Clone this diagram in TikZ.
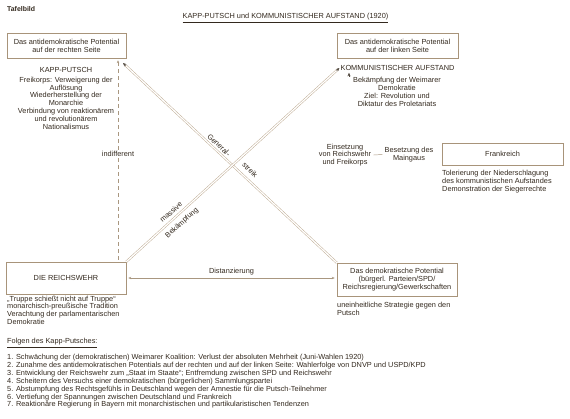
\documentclass[tikz,border=0pt]{standalone}
\usepackage{fontspec}
\setmainfont{Liberation Sans}
\usetikzlibrary{arrows.meta,calc}
\definecolor{ink}{HTML}{33291E}
\definecolor{linec}{HTML}{BCA88E}
\definecolor{boxc}{HTML}{A8947A}
\newcommand\fs{\fontsize{7.35}{7.8}\selectfont}
\newcommand\dblarrow[2]{%
  \draw[dbl, shorten >=2.5pt] (#1) -- (#2);
  \draw[tipline] ($(#2)!4pt!(#1)$) -- (#2);}
\begin{document}
\begin{tikzpicture}[x=1pt,y=-1pt,
  every node/.style={font=\fs, text=ink, inner sep=0pt},
  box/.style={draw=boxc, line width=0.5pt, align=center},
  txt/.style={align=center},
  ltxt/.style={align=left, anchor=north west},
  dbl/.style={draw=linec, line width=0.45pt, double=white, double distance=1.3pt},
  tipline/.style={draw=ink!85, line width=0.4pt, -{Stealth[length=3.5pt,width=3pt]}},
  thinline/.style={draw=linec!90!black, line width=0.45pt}]
\useasboundingbox[fill=white] (0,0) rectangle (570,418);

% header
\node[anchor=west, font=\fontsize{6.9}{7.8}\selectfont\bfseries] (tafel) at (7,9) {Tafelbild};
\node (title) at (285.5,18) {\underline{KAPP-PUTSCH und KOMMUNISTISCHER AUFSTAND (1920)}};

% boxes
\node[box, minimum width=119pt, minimum height=25pt] (lt) at (66.5,45.5)
  {Das antidemokratische Potential\\auf der rechten Seite};
\node[box, minimum width=121pt, minimum height=25pt] (rt) at (397.5,45.5)
  {Das antidemokratische Potential\\auf der linken Seite};
\node[box, minimum width=121pt, minimum height=22pt] (fr) at (502.5,154) {Frankreich};
\node[box, minimum width=120pt, minimum height=32pt] (rw) at (66,278) {DIE REICHSWEHR};
\node[box, minimum width=120pt, minimum height=33pt] (dp) at (397,279.5)
  {Das demokratische Potential\\(bürgerl. Parteien/SPD/\\Reichsregierung/Gewerkschaften};

% texts
\node[txt] (kapp) at (66,70) {KAPP-PUTSCH};
\node[txt] (kappblk) at (66,103) {Freikorps: Verweigerung der\\Auflösung\\Wiederherstellung der\\Monarchie\\Verbindung von reaktionärem\\und revolutionärem\\Nationalismus};
\node[txt] (komm) at (397.5,68) {KOMMUNISTISCHER AUFSTAND};
\node[txt] (kommblk) at (397,92) {Bekämpfung der Weimarer\\Demokratie\\Ziel: Revolution und\\Diktatur des Proletariats};
\node[txt] (einsetz) at (345,155) {Einsetzung\\von Reichswehr\\und Freikorps};
\node[txt] (besetz) at (409,154.5) {Besetzung des\\Maingaus};
\node[ltxt] (tol) at (442,170.3) {Tolerierung der Niederschlagung\\des kommunistischen Aufstandes\\Demonstration der Siegerrechte};
\node[ltxt] (rwtxt) at (7,295.5) {„Truppe schießt nicht auf Truppe“\\monarchisch-preußische Tradition\\Verachtung der parlamentarischen\\Demokratie};
\node[ltxt] (dptxt) at (337,302.3) {uneinheitliche Strategie gegen den\\Putsch};
\node[txt, inner sep=1.5pt] (indiff) at (118,154) {indifferent};

% footer list
\node[ltxt] (folgen) at (7,338.3) {\underline{Folgen des Kapp-Putsches:}};
\node[ltxt, font=\fontsize{7.35}{7.85}\selectfont] (liste) at (7,354.3) {%
1. Schwächung der (demokratischen) Weimarer Koalition: Verlust der absoluten Mehrheit (Juni-Wahlen 1920)\\
2. Zunahme des antidemokratischen Potentials auf der rechten und auf der linken Seite: Wahlerfolge von DNVP und USPD/KPD\\
3. Entwicklung der Reichswehr zum „Staat im Staate“; Entfremdung zwischen SPD und Reichswehr\\
4. Scheitern des Versuchs einer demokratischen (bürgerlichen) Sammlungspartei\\
5. Abstumpfung des Rechtsgefühls in Deutschland wegen der Amnestie für die Putsch-Teilnehmer\\
6. Vertiefung der Spannungen zwischen Deutschland und Frankreich\\
7. Reaktionäre Regierung in Bayern mit monarchistischen und partikularistischen Tendenzen};

% coordinates
\coordinate (tipB) at (123,63);
\coordinate (vcol) at (349,0);

% indifferent dashed
\draw[thinline, dashed, dash pattern=on 4pt off 3pt] (indiff.south) -- (indiff |- rw.north);
\draw[thinline, dashed, dash pattern=on 4pt off 3pt, -{Stealth[length=3pt,width=2.4pt]}] (indiff.north) -- ($(indiff |- lt.south)+(0,2)$);

% Distanzierung
\draw[thinline, {Stealth[length=3pt,width=2.4pt]}-{Stealth[length=3pt,width=2.4pt]}]
  ($(rw.east)+(2,0)$) -- node[above=3pt] (dist) {Distanzierung} ($(dp.west)+(-2,-1.5)$);

% diagonal B (Generalstreik)
\dblarrow{dp.north west}{tipB}
% diagonal A (massive Bekämpfung)
\dblarrow{rw.north east}{$(komm.west)+(-1,0)$}

% vertical Einsetzung
\draw[dbl] (dp.north -| vcol) -- ($(einsetz.south -| vcol)+(0,2)$);
\coordinate (vtip) at ($(komm.south -| vcol)+(0,2)$);
\draw[dbl, shorten >=2.5pt] ($(einsetz.north -| vcol)+(0,-3)$) -- (vtip);
\draw[tipline] ($(vtip)+(0,4)$) -- (vtip);

% Besetzung line
\draw[thinline] ($(einsetz.east)+(2,0)$) -- ($(besetz.west)+(-2,0)$);

% diagonal labels
\node[rotate=42] (massive) at (171,212) {massive};
\node[rotate=42] (bekaempf) at (182,223) {Bekämpfung};
\node[rotate=-43] (general) at (219,145) {General-};
\node[rotate=-43] (streik) at (250,170) {streik};
\end{tikzpicture}
\end{document}
